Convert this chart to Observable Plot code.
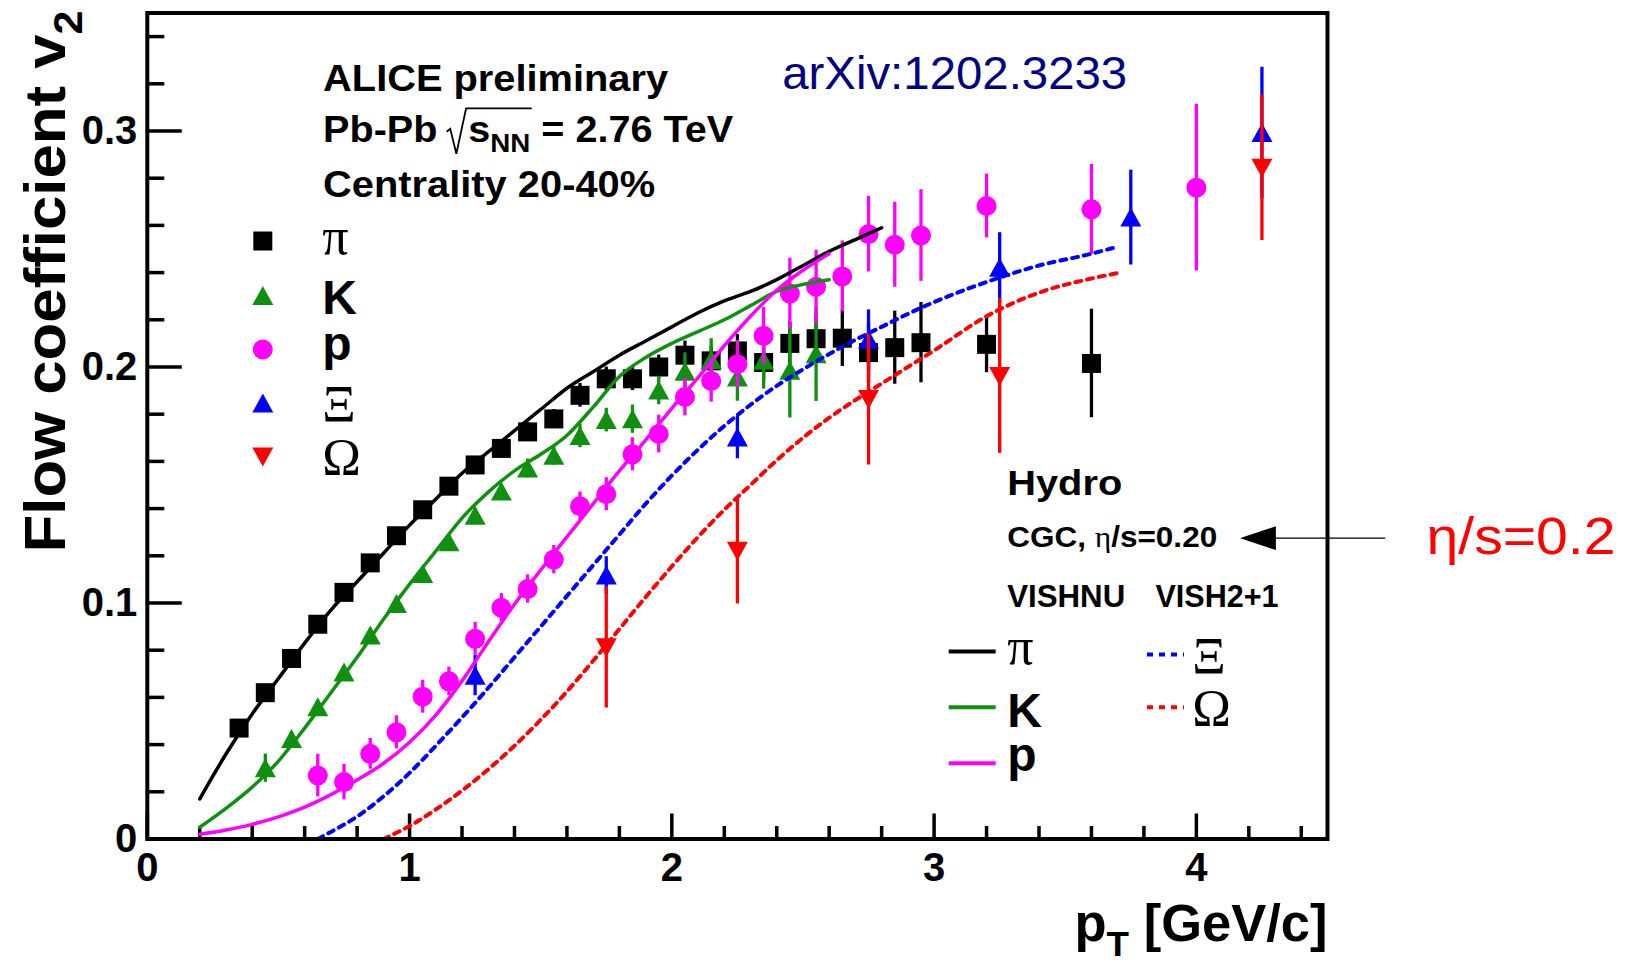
<!DOCTYPE html>
<html>
<head>
<meta charset="utf-8">
<script src="https://cdn.jsdelivr.net/npm/d3@7"></script>
<script src="https://cdn.jsdelivr.net/npm/@observablehq/plot@0.6"></script>
<style>
  html, body { margin: 0; padding: 0; background: #ffffff; }
  #chart { width: 1632px; height: 965px; overflow: hidden; }
</style>
</head>
<body>
<div id="chart"></div>
<script>
// ---- Measured v2(pT), Pb-Pb 2.76 TeV, centrality 20-40% ----
const pionPt  = [0.35,0.45,0.55,0.65,0.75,0.85,0.95,1.05,1.15,1.25,1.35,1.45,1.55,1.65,1.75,1.85,1.95,2.05,2.15,2.25,2.35,2.45,2.55,2.65,2.75,2.85,2.95,3.2,3.6];
const pionV2  = [0.047,0.062,0.0765,0.091,0.1045,0.117,0.1285,0.1395,0.1495,0.1585,0.1655,0.1725,0.178,0.188,0.195,0.195,0.200,0.205,0.2026,0.2068,0.2019,0.210,0.212,0.2122,0.2061,0.2082,0.2103,0.2096,0.2015];
const pionErr = [0.002,0.002,0.002,0.002,0.002,0.002,0.002,0.002,0.002,0.003,0.003,0.004,0.004,0.005,0.005,0.005,0.005,0.006,0.006,0.007,0.008,0.009,0.010,0.012,0.013,0.0155,0.017,0.012,0.023];

const kaonPt  = [0.45,0.55,0.65,0.75,0.85,0.95,1.05,1.15,1.25,1.35,1.45,1.55,1.65,1.75,1.85,1.95,2.05,2.15,2.25,2.35,2.45,2.55];
const kaonV2  = [0.030,0.0424,0.0558,0.0706,0.0862,0.0996,0.1123,0.1257,0.137,0.1472,0.157,0.1624,0.1708,0.1775,0.1779,0.190,0.198,0.203,0.1955,0.2026,0.1984,0.2054];
const kaonErr = [0.006,0.003,0.002,0.002,0.002,0.002,0.002,0.002,0.003,0.003,0.004,0.004,0.005,0.005,0.006,0.006,0.008,0.009,0.010,0.012,0.020,0.020];

const protonPt  = [0.65,0.75,0.85,0.95,1.05,1.15,1.25,1.35,1.45,1.55,1.65,1.75,1.85,1.95,2.05,2.15,2.25,2.35,2.45,2.55,2.65,2.75,2.85,2.95,3.2,3.6,4.0];
const protonV2  = [0.0269,0.0241,0.0361,0.0452,0.0603,0.0668,0.0848,0.098,0.1059,0.1184,0.141,0.1461,0.163,0.1716,0.1873,0.1941,0.2012,0.2132,0.2311,0.234,0.2384,0.2563,0.2518,0.2557,0.2682,0.2668,0.276];
const protonErr = [0.009,0.0075,0.0065,0.007,0.007,0.006,0.007,0.006,0.006,0.006,0.006,0.007,0.007,0.008,0.008,0.009,0.010,0.012,0.015,0.0155,0.015,0.016,0.018,0.0194,0.0135,0.019,0.0353];

const xiPt  = [1.25,1.75,2.25,2.75,3.25,3.75,4.25];
const xiV2  = [0.0692,0.1116,0.1701,0.2115,0.2421,0.2633,0.2992];
const xiErr = [0.0085,0.008,0.009,0.0127,0.0148,0.0201,0.0278];

const omegaPt  = [1.75,2.25,2.75,3.25,4.25];
const omegaV2  = [0.0812,0.1221,0.1864,0.1962,0.2844];
const omegaErr = [0.0257,0.0225,0.0279,0.0328,0.0308];

// ---- Hydrodynamic calculations (VISHNU: pi, K, p; VISH2+1: Xi, Omega) ----
const hydroPionPt = [0.2,0.3,0.4,0.5,0.6,0.7,0.8,0.9,1.0,1.1,1.2,1.3,1.4,1.5,1.6,1.7,1.8,1.9,2.0,2.1,2.2,2.3,2.4,2.5,2.6,2.7,2.8];
const hydroPionV2 = [0.017,0.036,0.053,0.068,0.083,0.097,0.109,0.121,0.133,0.144,0.155,0.164,0.173,0.182,0.191,0.198,0.205,0.211,0.217,0.223,0.228,0.232,0.237,0.243,0.249,0.254,0.259];

const hydroKaonPt = [0.2,0.3,0.4,0.5,0.6,0.7,0.8,0.9,1.0,1.1,1.2,1.3,1.4,1.5,1.6,1.7,1.8,1.9,2.0,2.1,2.2,2.3,2.4,2.5,2.6];
const hydroKaonV2 = [0.005,0.013,0.022,0.033,0.047,0.062,0.077,0.093,0.108,0.122,0.136,0.147,0.156,0.163,0.171,0.183,0.196,0.204,0.210,0.215,0.220,0.226,0.232,0.235,0.237];

const hydroProtonPt = [0.2,0.3,0.4,0.5,0.6,0.7,0.8,0.9,1.0,1.1,1.2,1.3,1.4,1.5,1.6,1.7,1.8,1.9,2.0,2.1,2.2,2.3,2.4,2.5,2.6];
const hydroProtonV2 = [0.002,0.0038,0.0062,0.0094,0.0135,0.0188,0.025,0.032,0.041,0.0525,0.067,0.0835,0.0995,0.114,0.128,0.142,0.156,0.169,0.1825,0.1955,0.209,0.2215,0.2325,0.241,0.248];

const hydroXiPt = [0.65,0.7,0.8,0.9,1.0,1.1,1.2,1.3,1.4,1.5,1.6,1.7,1.8,1.9,2.0,2.1,2.2,2.3,2.4,2.5,2.6,2.7,2.8,2.9,3.0,3.2,3.4,3.6,3.7];
const hydroXiV2 = [0.0,0.003,0.0095,0.018,0.028,0.0395,0.0515,0.064,0.077,0.090,0.103,0.116,0.129,0.142,0.154,0.165,0.175,0.184,0.192,0.199,0.2055,0.2115,0.217,0.2225,0.2275,0.236,0.243,0.248,0.251];

const hydroOmegaPt = [0.9,1.0,1.1,1.2,1.3,1.4,1.5,1.6,1.7,1.8,1.9,2.0,2.1,2.2,2.3,2.4,2.5,2.6,2.7,2.8,2.9,3.0,3.2,3.4,3.6,3.7];
const hydroOmegaV2 = [0.0,0.0055,0.0125,0.0205,0.0295,0.0395,0.0505,0.0625,0.0755,0.089,0.1025,0.1155,0.128,0.1395,0.150,0.1605,0.170,0.1785,0.186,0.193,0.200,0.207,0.2215,0.2315,0.2375,0.2398];

// ---- Axis ticks and labels ----
const xTickLabels = [0, 1, 2, 3, 4];
const yTickLabels = [0, 0.1, 0.2, 0.3];
const xMinorTicks = [0.2,0.4,0.6,0.8,1.2,1.4,1.6,1.8,2.2,2.4,2.6,2.8,3.2,3.4,3.6,3.8,4.2,4.4];
const yMinorTicks = [0.02,0.04,0.06,0.08,0.12,0.14,0.16,0.18,0.22,0.24,0.26,0.28,0.32,0.34];

// ---- Text ----
const headerLines = ["ALICE preliminary", "Pb-Pb #sqrt{s_{NN}} = 2.76 TeV", "Centrality 20-40%"];
const referenceText = "arXiv:1202.3233";
const hydroTitle = "Hydro";
const hydroSetup = "CGC, #eta/s=0.20";
const hydroModels = ["VISHNU", "VISH2+1"];
const viscosityNote = "η/s=0.2";
const xTitle = "p_{T} [GeV/c]";
const yTitle = "Flow coefficient v_{2}";

// ---- Layout ----
const W = 1632, H = 965;
const M = {left: 146.8, right: 305, top: 12.5, bottom: 126.5};
const plotW = W - M.left - M.right;
const plotH = H - M.top - M.bottom;
const SANS = "Liberation Sans, Arial, Helvetica, sans-serif";
const SERIF = "Liberation Serif, Times New Roman, serif";
const GREEN = "#109010";

// Marker shapes (fixed pixel size)
const squareSym = {draw(ctx) { ctx.rect(-9.5, -9.5, 19, 19); }};
const triUpSym = {draw(ctx) { ctx.moveTo(0, -10); ctx.lineTo(10.5, 9); ctx.lineTo(-10.5, 9); ctx.closePath(); }};
const triDownSym = {draw(ctx) { ctx.moveTo(0, 10); ctx.lineTo(10.5, -9); ctx.lineTo(-10.5, -9); ctx.closePath(); }};
const swatch = (len) => ({draw(ctx) { ctx.moveTo(-len / 2, 0); ctx.lineTo(len / 2, 0); }});
const arrowSym = {draw(ctx) {
  ctx.moveTo(0, 0); ctx.lineTo(33, -11); ctx.lineTo(33, 11); ctx.closePath();
  ctx.moveTo(33, 0); ctx.lineTo(143, 0);
}};

const species = [
  {label: "π", serif: true,  color: "#000000", symbol: squareSym,  pt: pionPt,    v2: pionV2,    err: pionErr},
  {label: "K", serif: false, color: GREEN,     symbol: triUpSym,   pt: kaonPt,    v2: kaonV2,    err: kaonErr},
  {label: "p", serif: false, color: "#ff00ff", symbol: "circle",   pt: protonPt,  v2: protonV2,  err: protonErr},
  {label: "Ξ", serif: true,  color: "#0000ff", symbol: triUpSym,   pt: xiPt,      v2: xiV2,      err: xiErr},
  {label: "Ω", serif: true,  color: "#ff0000", symbol: triDownSym, pt: omegaPt,   v2: omegaV2,   err: omegaErr}
];

const hydro = [
  {label: "π", serif: true,  color: "#000000", dotted: false, pt: hydroPionPt,   v2: hydroPionV2,   col: 0, row: 0},
  {label: "K", serif: false, color: GREEN,     dotted: false, pt: hydroKaonPt,   v2: hydroKaonV2,   col: 0, row: 1},
  {label: "p", serif: false, color: "#ff00ff", dotted: false, pt: hydroProtonPt, v2: hydroProtonV2, col: 0, row: 2},
  {label: "Ξ", serif: true,  color: "#0000ff", dotted: true,  pt: hydroXiPt,     v2: hydroXiV2,     col: 1, row: 0},
  {label: "Ω", serif: true,  color: "#ff0000", dotted: true,  pt: hydroOmegaPt,  v2: hydroOmegaV2,  col: 1, row: 1}
];

// Helpers for items placed relative to the frame's top-left corner
const at = (dx, dy) => ({frameAnchor: "top-left", dx, dy});
const label = (txt, dx, dy, opts = {}) =>
  Plot.text([txt], {...at(dx, dy), text: d => d, textAnchor: "start", lineAnchor: "bottom",
    fontFamily: SANS, fontWeight: "bold", fill: "#000", ...opts});
const glyph = (txt, serif, dx, dy, color = "#000") =>
  label(txt, dx, dy, serif ? {fontFamily: SERIF, fontWeight: "normal", fontSize: 52, fill: color}
                           : {fontSize: 48, fill: color});

const marks = [];

// Inward ticks
marks.push(Plot.tickX(xMinorTicks, {insetTop: plotH - 12.5, stroke: "#000", strokeWidth: 3.5}));
marks.push(Plot.tickX(xTickLabels, {insetTop: plotH - 25, stroke: "#000", strokeWidth: 3.5}));
marks.push(Plot.tickY(yMinorTicks, {insetRight: plotW - 17.5, stroke: "#000", strokeWidth: 3.5}));
marks.push(Plot.tickY(yTickLabels, {insetRight: plotW - 35, stroke: "#000", strokeWidth: 3.5}));

// Tick labels
marks.push(Plot.text(xTickLabels, {x: d => d, frameAnchor: "bottom", dy: 42, lineAnchor: "bottom",
  text: d => String(d), fontFamily: SANS, fontWeight: "bold", fontSize: 40, fill: "#000"}));
marks.push(Plot.text(yTickLabels, {y: d => d, frameAnchor: "left", dx: -10, textAnchor: "end", lineAnchor: "middle",
  text: d => String(d), fontFamily: SANS, fontWeight: "bold", fontSize: 40, fill: "#000"}));

// Measured points with statistical error bars
for (const s of species) {
  const pts = s.pt.map((pt, i) => ({pt, v2: s.v2[i], err: s.err[i]}));
  marks.push(Plot.ruleX(pts, {x: "pt", y1: d => d.v2 - d.err, y2: d => d.v2 + d.err, stroke: s.color, strokeWidth: 3.3}));
  marks.push(Plot.dot(pts, {x: "pt", y: "v2", symbol: s.symbol, r: 10, fill: s.color, stroke: "none"}));
}

// Hydro curves
for (const h of hydro) {
  const pts = h.pt.map((pt, i) => ({pt, v2: h.v2[i]}));
  marks.push(Plot.line(pts, {x: "pt", y: "v2", stroke: h.color, strokeWidth: h.dotted ? 4 : 3.5,
    strokeDasharray: h.dotted ? "6,6" : null, curve: "monotone-x"}));
}

// Header text
marks.push(label(headerLines[0], 175.8, 77.5, {fontSize: 36}));
marks.push(label(headerLines[1], 175.8, 128.5, {fontSize: 36}));
marks.push(label(headerLines[2], 175.8, 184.2, {fontSize: 36}));
marks.push(label(referenceText, 634.9, 75.8, {fontSize: 46, fontWeight: "normal", fill: "#000080"}));

// Data legend
const legendMarkerDy = [228, 283, 336.5, 390.5, 443.5];
const legendLabelDy = [240.5, 300.8, 347, 409.2, 462];
species.forEach((s, i) => {
  marks.push(Plot.dot([s], {...at(115.5, legendMarkerDy[i]), symbol: s.symbol, r: 10, fill: s.color, stroke: "none"}));
  marks.push(glyph(s.label, s.serif, 175, legendLabelDy[i]));
});

// Hydro legend
marks.push(label(hydroTitle, 859.9, 481.8, {fontSize: 35}));
marks.push(label(hydroSetup, 859.9, 533.5, {fontSize: 29}));
marks.push(label(hydroModels[0], 859.9, 594.2, {fontSize: 31}));
marks.push(label(hydroModels[1], 1008.2, 594.2, {fontSize: 31}));
const swatchDy = [[638.5, 694.2, 750.2], [641.5, 694.2]];
const hydroLabelDy = [[650.5, 714.2, 757.5], [660.5, 712.5]];
const swatchDx = [824.9, 1018.2];
const hydroLabelDx = [859.9, 1044.9];
for (const h of hydro) {
  marks.push(Plot.dot([h], {...at(swatchDx[h.col], swatchDy[h.col][h.row]),
    symbol: swatch(h.dotted ? 37 : 47), fill: "none", stroke: h.color, strokeWidth: 4,
    strokeDasharray: h.dotted ? "6,6" : null}));
  marks.push(glyph(h.label, h.serif, hydroLabelDx[h.col], hydroLabelDy[h.col][h.row]));
}

// Arrow pointing at the viscosity setting, with its note outside the frame
marks.push(Plot.dot([0], {...at(1094.9, 525.2), symbol: arrowSym, r: 1, fill: "#000", stroke: "#000", strokeWidth: 1.3}));
marks.push(label(viscosityNote, 1279.2, 541.2, {fontSize: 52, fontWeight: "normal", fill: "#ff0000"}));

// Axis titles
marks.push(label(xTitle, 1180.2, 927.5, {fontSize: 51, textAnchor: "end"}));
marks.push(label(yTitle, -82.3, -2.5, {fontSize: 57, textAnchor: "end", rotate: -90}));

// Frame on top
marks.push(Plot.frame({stroke: "#000", strokeWidth: 4}));

const chart = Plot.plot({
  width: W, height: H,
  marginLeft: M.left, marginRight: M.right, marginTop: M.top, marginBottom: M.bottom,
  x: {domain: [0, 4.5], axis: null},
  y: {domain: [0, 0.35], axis: null},
  style: {background: "#ffffff", fontFamily: SANS, overflow: "visible"},
  marks
});
document.getElementById("chart").append(chart);

// ---- Rich text: subscripts, Greek letters, square roots; horizontal fitting ----
const NS = "http://www.w3.org/2000/svg";
const textWidths = {
  "ALICE preliminary": 345,
  "Pb-Pb #sqrt{s_{NN}} = 2.76 TeV": 410,
  "Centrality 20-40%": 332,
  "arXiv:1202.3233": 345,
  "Hydro": 115,
  "CGC, #eta/s=0.20": 210,
  "VISHNU": 118,
  "VISH2+1": 123,
  "η/s=0.2": 189,
  "p_{T} [GeV/c]": 253,
  "Flow coefficient v_{2}": 542
};

function richText(el, src) {
  const fs = parseFloat(getComputedStyle(el).fontSize);
  const shift = 0.3 * fs;
  el.textContent = "";
  let level = 0, count = 0, rad = null;
  const add = (txt, {sub = false, serif = false} = {}) => {
    if (!txt) return;
    const t = document.createElementNS(NS, "tspan");
    t.textContent = txt;
    const target = sub ? shift : 0;
    if (target !== level) t.setAttribute("dy", target - level);
    level = target;
    if (sub) t.setAttribute("font-size", 0.7 * fs);
    if (serif) { t.setAttribute("font-family", SERIF); t.setAttribute("font-weight", "normal"); }
    el.append(t);
    count += txt.length;
  };
  const re = /#sqrt\{|_\{([^}]*)\}|#eta|\}/g;
  let last = 0, m;
  while ((m = re.exec(src))) {
    add(src.slice(last, m.index));
    last = re.lastIndex;
    if (m[0] === "#sqrt{") { add("\u2002"); rad = {start: count}; }
    else if (m[0] === "}") { if (rad) rad.end = count - 1; }
    else if (m[0] === "#eta") add("η", {serif: true});
    else add(m[1], {sub: true});
  }
  add(src.slice(last));
  return {rad, fs};
}

chart.querySelectorAll("text").forEach(el => {
  const src = el.textContent;
  let info = null;
  if (/[_#]/.test(src)) info = richText(el, src);
  if (textWidths[src]) {
    el.setAttribute("textLength", textWidths[src]);
    el.setAttribute("lengthAdjust", "spacingAndGlyphs");
  }
  if (info && info.rad) {
    const {rad, fs} = info;
    const a = el.getStartPositionOfChar(rad.start);
    const b = el.getEndPositionOfChar(rad.end);
    const base = a.y, x0 = a.x;
    const p = document.createElementNS(NS, "path");
    p.setAttribute("d",
      `M${x0 - 0.6 * fs},${base - 0.27 * fs} L${x0 - 0.5 * fs},${base - 0.35 * fs} ` +
      `L${x0 - 0.33 * fs},${base + 0.34 * fs} L${x0 - 0.06 * fs},${base - 0.92 * fs} ` +
      `L${b.x + 0.04 * fs},${base - 0.92 * fs}`);
    p.setAttribute("fill", "none");
    p.setAttribute("stroke", "#000");
    p.setAttribute("stroke-width", 1.8);
    const tr = el.getAttribute("transform");
    if (tr) p.setAttribute("transform", tr);
    el.parentNode.appendChild(p);
  }
});
</script>
</body>
</html>
